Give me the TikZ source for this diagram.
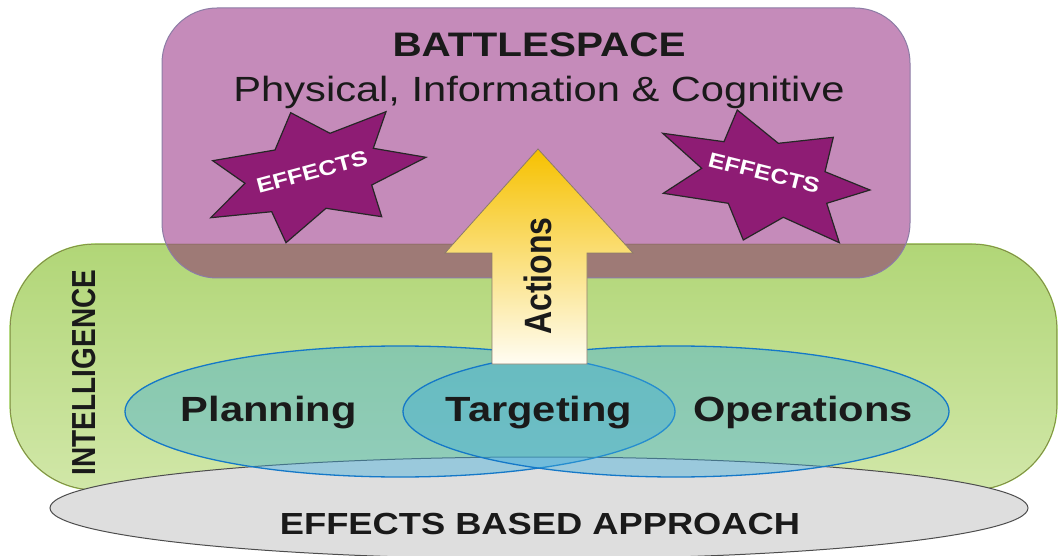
\documentclass[tikz,border=0pt]{standalone}
\usepackage{fontspec}
\setmainfont{Liberation Sans}
\newfontfamily\wf[FakeStretch=1.19]{Liberation Sans}
\definecolor{greenTop}{RGB}{177,214,119}
\definecolor{greenBot}{RGB}{209,231,168}
\definecolor{greenLine}{RGB}{141,198,63}
\definecolor{purpleFill}{RGB}{197,139,186}
\definecolor{purpleLine}{RGB}{140,124,165}
\definecolor{brownFill}{RGB}{158,122,118}
\definecolor{brownLine}{RGB}{130,100,90}
\definecolor{starFill}{RGB}{142,28,116}
\definecolor{arrowTop}{RGB}{246,193,0}
\definecolor{arrowBot}{RGB}{255,253,243}
\definecolor{arrowLine}{RGB}{140,123,107}
\definecolor{grayFill}{RGB}{222,222,222}
\definecolor{grayLine}{RGB}{77,77,77}
\definecolor{blueFill}{RGB}{61,172,218}
\definecolor{blueLine}{RGB}{20,120,200}
\definecolor{txt}{RGB}{26,26,26}
\begin{document}
\begin{tikzpicture}[x=1pt,y=-1pt,
  starshape/.style={fill=starFill,draw=black!85,line width=1.2pt,line join=miter},
  efftext/.style={text=white,font=\wf\bfseries\fontsize{21}{24}\selectfont,inner sep=0pt},
  bigtext/.style={text=txt,inner sep=0pt,anchor=base},
  blueell/.style={fill=blueFill,fill opacity=0.42,draw=blueLine,draw opacity=1,line width=1.3pt}]
\useasboundingbox (0,0) rectangle (1058,556);
% intelligence box
\shadedraw[top color=greenTop,bottom color=greenBot,draw=greenLine,line width=1.2pt,rounded corners=85pt] (10,244) rectangle (1057,490);
% battlespace box
\fill[purpleFill,rounded corners=55pt] (162,8) rectangle (910,278);
\begin{scope}
  \clip[rounded corners=85pt] (10,244) rectangle (1057,490);
  \fill[brownFill,rounded corners=55pt] (162,8) rectangle (910,278);
  \draw[brownLine,line width=0.8pt,rounded corners=85pt] (10,244) rectangle (1057,490);
\end{scope}
\draw[purpleLine,line width=1pt,rounded corners=55pt] (162,8) rectangle (910,278);
% stars
\draw[starshape] (290.7,112.7) -- (330,133.3) -- (386,111.7) -- (373.3,148.3) -- (426,157.3) -- (371.7,185) -- (381.7,216.7) -- (326,208.3) -- (286,242.7) -- (271.7,211.7) -- (210.7,217.7) -- (245,183.3) -- (212.7,160.7) -- (275,150) -- cycle;
\draw[starshape] (737.3,110) -- (778.3,143.3) -- (833.3,137.3) -- (825,171.7) -- (870,190) -- (826.7,203.3) -- (839.3,242.7) -- (783.3,217.3) -- (743.3,240) -- (728.3,203.3) -- (663.3,193.3) -- (701.7,168.3) -- (662.7,133.3) -- (724,141.7) -- cycle;
\node[efftext,rotate=15] (effL) at (312,172) {EFFECTS};
\node[efftext,rotate=-14] (effR) at (764,173) {EFFECTS};
% effects based approach
\filldraw[fill=grayFill,draw=grayLine,line width=1pt] (539,508) ellipse [x radius=489pt,y radius=51pt];
% planning / operations
\path[blueell] (400,411.5) ellipse [x radius=275pt,y radius=65.5pt];
\path[blueell] (676,411.5) ellipse [x radius=273pt,y radius=65.5pt];
% actions arrow
\shadedraw[top color=arrowTop,bottom color=arrowBot,draw=arrowLine,line width=0.8pt] (538,149) -- (633,253) -- (587,253) -- (587,364) -- (492,364) -- (492,253) -- (445,253) -- cycle;
% texts
\node[bigtext,font=\wf\bfseries\fontsize{34}{40}\selectfont] (bs) at (539,57) {BATTLESPACE};
\node[bigtext,font=\wf\fontsize{35}{40}\selectfont] (pic) at (539,101.5) {Physical, Information \& Cognitive};
\node[bigtext,font=\wf\bfseries\fontsize{35}{40}\selectfont] (plan) at (268.6,421.7) {Planning};
\node[bigtext,font=\wf\bfseries\fontsize{35}{40}\selectfont] (targ) at (539,421.7) {Targeting};
\node[bigtext,font=\wf\bfseries\fontsize{35}{40}\selectfont] (ops) at (803,421.7) {Operations};
\node[bigtext,font=\wf\bfseries\fontsize{30.5}{36}\selectfont] (eba) at (540,534) {EFFECTS BASED APPROACH};
\node[bigtext,rotate=90,font=\bfseries\fontsize{32}{36}\selectfont] (act) at (551,276) {\scalebox{1}[1.19]{Actions}};
\node[bigtext,rotate=90,font=\bfseries\fontsize{28}{32}\selectfont] (intel) at (95,372.5) {\scalebox{1}[1.19]{INTELLIGENCE}};
\end{tikzpicture}
\end{document}
